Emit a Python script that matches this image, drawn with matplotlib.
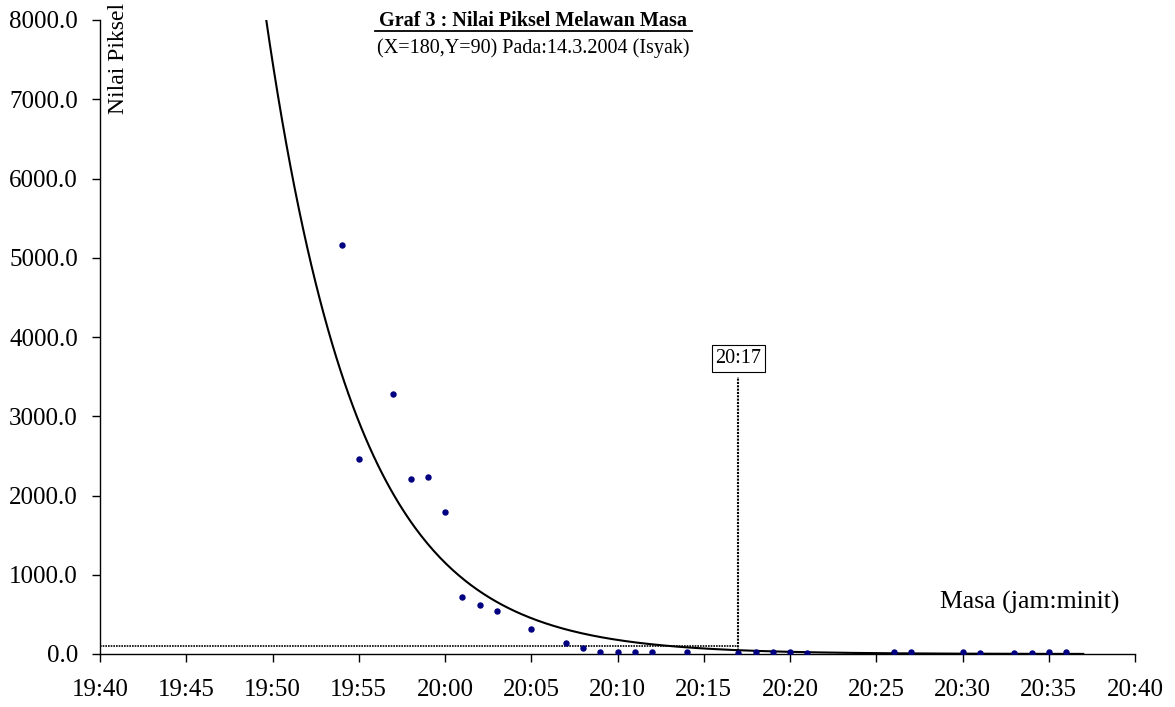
import matplotlib
matplotlib.use("Agg")
import matplotlib.pyplot as plt
import numpy as np

plt.rcParams['font.family'] = ['Liberation Serif', 'DejaVu Serif']

# Observation times and pixel values
times = ["19:54", "19:55", "19:57", "19:58", "19:59", "20:00", "20:01", "20:02",
         "20:03", "20:05", "20:07", "20:08", "20:09", "20:10", "20:11", "20:12",
         "20:14", "20:17", "20:18", "20:19", "20:20", "20:21", "20:26", "20:27",
         "20:30", "20:31", "20:33", "20:34", "20:35", "20:36"]
values = [5165, 2455, 3276, 2205, 2230, 1790, 714, 613,
          538, 315, 142, 76, 25, 25, 20, 25,
          22, 12, 20, 22, 25, 15, 22, 25,
          20, 15, 15, 18, 25, 30]

# Exponential trendline coefficients: y = a * exp(-k * minutes since 19:40)
trend_a = 48500.0
trend_k = 0.187
trend_start, trend_end = "19:49", "20:37"

# Marked time and threshold
mark_time = "20:17"
mark_label = "20:17"
mark_top = 3500
threshold = 100

xtick_labels = ["19:40", "19:45", "19:50", "19:55", "20:00", "20:05", "20:10",
                "20:15", "20:20", "20:25", "20:30", "20:35", "20:40"]
yticks = [0, 1000, 2000, 3000, 4000, 5000, 6000, 7000, 8000]

def to_min(s):
    h, m = s.split(":")
    return (int(h) - 19) * 60 + int(m) - 40

x = np.array([to_min(t) for t in times])
y = np.array(values)

fig = plt.figure(figsize=(11.75, 7.07), dpi=100)
ax = fig.add_axes([100/1175, 1 - 654/707, (1135-100)/1175, (654-20)/707])

tx = np.linspace(to_min(trend_start), to_min(trend_end), 400)
ty = trend_a * np.exp(-trend_k * tx)
ax.plot(tx, ty, color='black', lw=1.5, zorder=2)

ax.plot(x, y, 'o', color='#000080', markersize=3.6, zorder=3)

mx = to_min(mark_time)
ax.plot([mx, mx], [0, mark_top], color='black', lw=1.5, ls=(0, (1, 0.6)), zorder=2)
ax.plot([0, mx], [threshold, threshold], color='black', lw=1.2, ls=(0, (1, 0.6)), zorder=2)
ax.text(mx, 3730, mark_label, ha='center', va='center', fontsize=14.5,
        bbox=dict(boxstyle='square,pad=0.18', fc='white', ec='black', lw=0.8))

ax.set_xlim(0, 60)
ax.set_ylim(0, 8000)
ax.set_xticks([to_min(t) for t in xtick_labels])
ax.set_xticklabels(xtick_labels)
ax.set_yticks(yticks)
ax.set_yticklabels([f"{v:.1f}" for v in yticks])
ax.tick_params(axis='both', direction='out', length=6, width=1, labelsize=18)
ax.tick_params(axis='x', pad=12)
ax.tick_params(axis='y', pad=10)
for s in ['top', 'right']:
    ax.spines[s].set_visible(False)
for s in ['left', 'bottom']:
    ax.spines[s].set_linewidth(1)

fig.text(533/1175, 1 - 21/707, "Graf 3 : Nilai Piksel Melawan Masa", ha='center', va='center',
         fontsize=14.5, fontweight='bold')
# underline
fig.add_artist(plt.Line2D([375/1175, 692/1175], [1 - 31/707, 1 - 31/707], color='black', lw=1.3))
fig.text(533/1175, 1 - 48/707, "(X=180,Y=90) Pada:14.3.2004 (Isyak)", ha='center', va='center',
         fontsize=14.5)
fig.text(118/1175, 1 - 58/707, "Nilai Piksel", rotation=90, ha='center', va='center', fontsize=17)
fig.text(1030/1175, 1 - 602/707, "Masa (jam:minit)", ha='center', va='center', fontsize=18.5)

fig.savefig("out.png", dpi=100)
